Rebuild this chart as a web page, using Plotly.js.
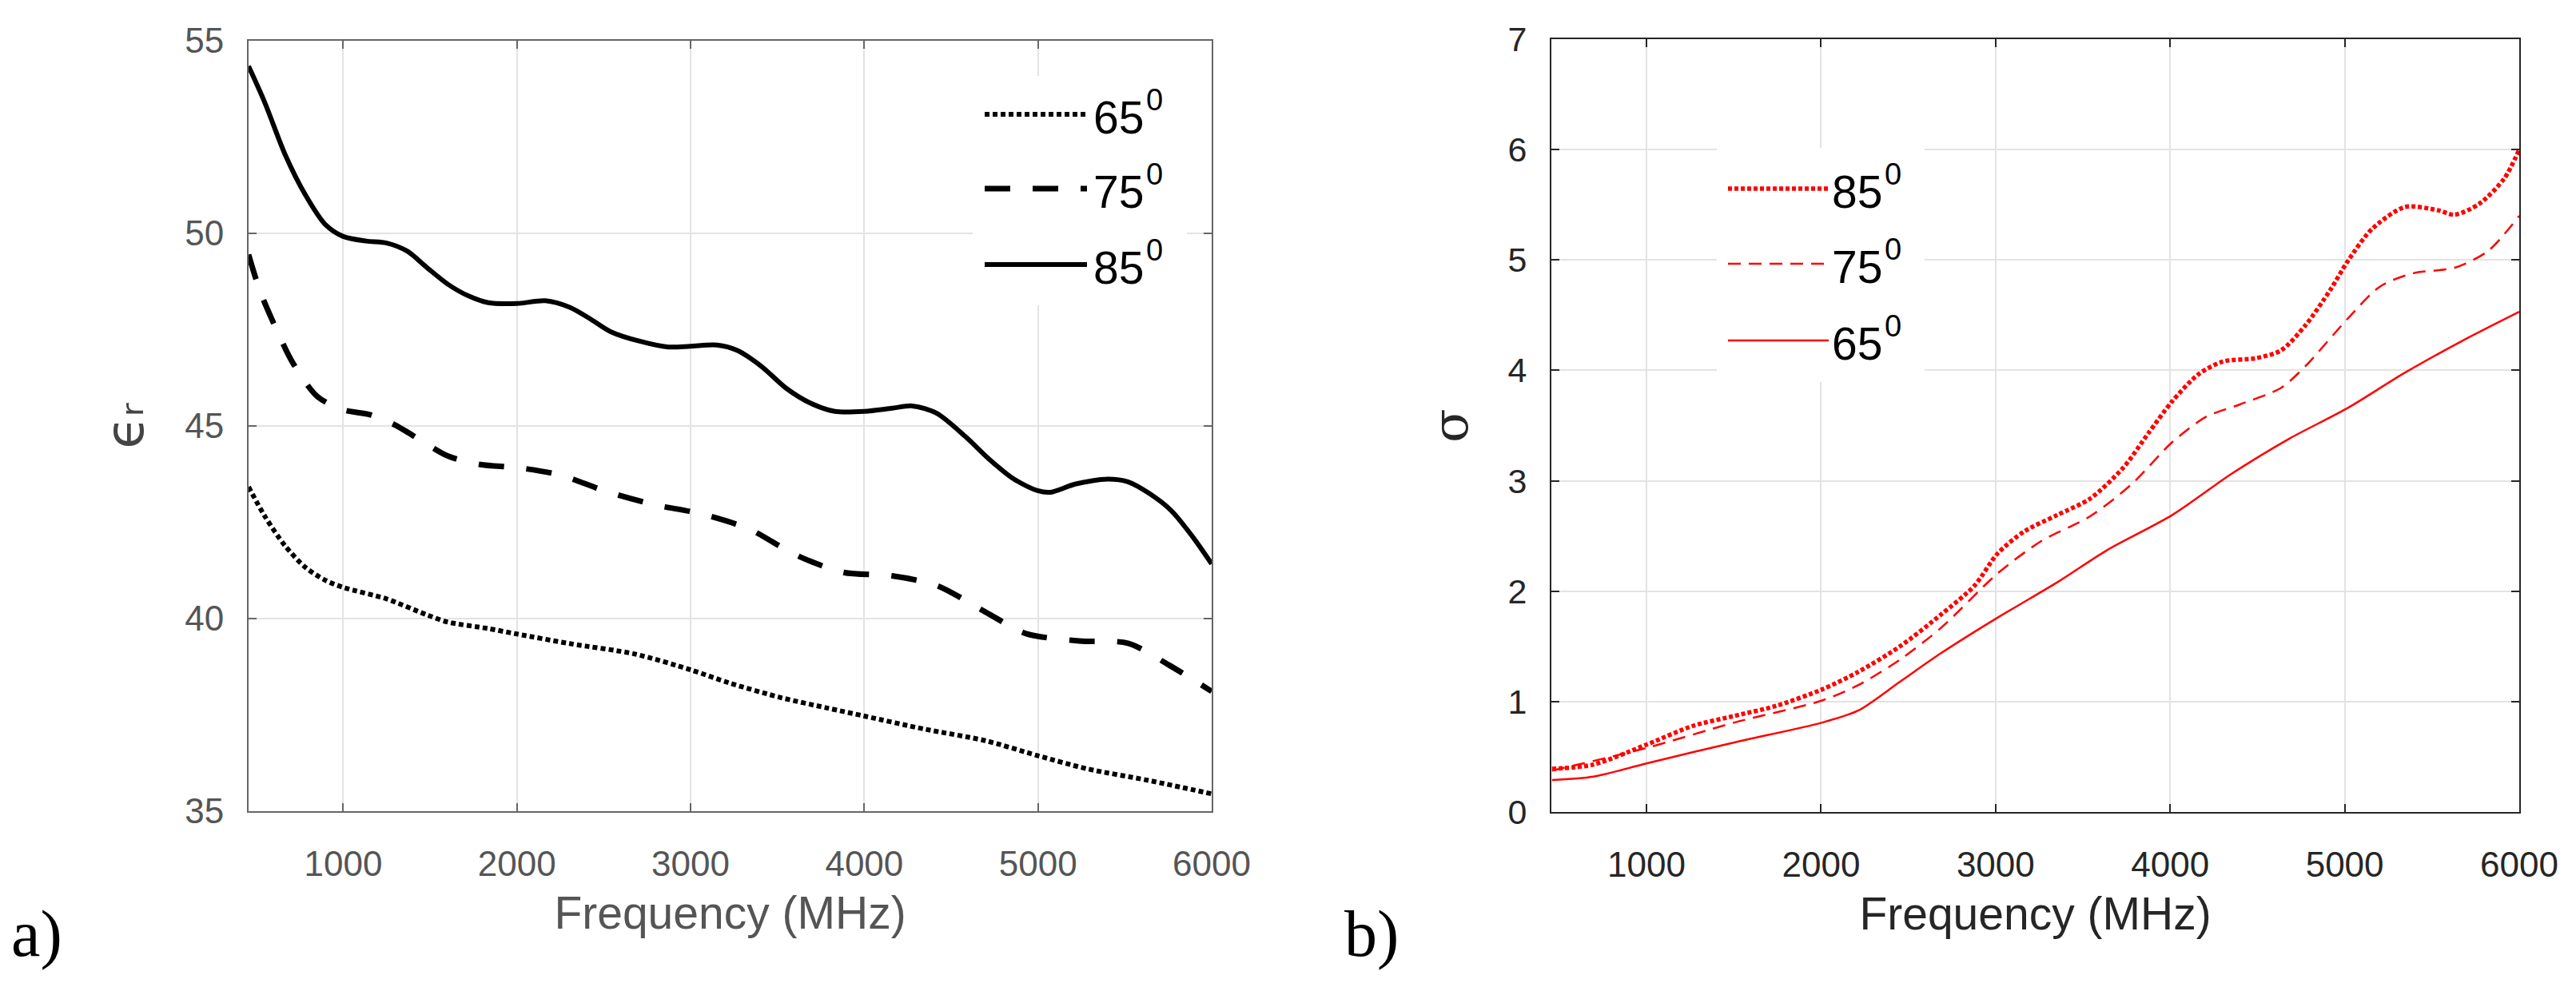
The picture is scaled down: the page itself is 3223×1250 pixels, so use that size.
<!DOCTYPE html>
<html>
<head>
<meta charset="utf-8">
<script src="https://cdn.plot.ly/plotly-3.0.1.min.js"></script>
<style>html,body{margin:0;padding:0;background:#fff;}#chart{width:3223px;height:1250px;}</style>
</head>
<body>
<div id="chart"></div>
<script>
// ---- data: panel a) relative permittivity ----
const freqEps85 = [455,548,665,782,899,1000,1133,1250,1368,1485,1602,1719,1836,2000,2164,2304,2422,2539,2707,2871,3000,3152,3269,3410,3550,3691,3831,4000,4159,4276,4417,4581,4721,4862,4998,5073,5213,5400,5518,5640,5768,5888,6000];
const eps85 = [54.34,53.4,52.05,51.0,50.22,49.92,49.8,49.75,49.54,49.1,48.68,48.38,48.2,48.18,48.25,48.08,47.78,47.45,47.2,47.05,47.07,47.1,46.96,46.54,45.98,45.59,45.38,45.38,45.46,45.52,45.33,44.73,44.13,43.62,43.32,43.28,43.49,43.62,43.55,43.25,42.8,42.14,41.42];
const freqEps75 = [455,521,618,712,852,1000,1157,1297,1438,1602,1789,2000,2246,2515,2778,3059,3340,3597,3878,4159,4417,4698,4932,5237,5518,5752,6000];
const eps75 = [49.45,48.5,47.48,46.62,45.76,45.42,45.29,45.03,44.65,44.22,44.0,43.92,43.73,43.3,42.97,42.72,42.32,41.67,41.2,41.11,40.86,40.17,39.61,39.42,39.36,38.8,38.11];
const freqEps65 = [455,548,665,782,899,1000,1250,1485,1602,1836,2000,2304,2679,3000,3222,3527,3785,4000,4347,4698,5000,5283,5635,6000];
const eps65 = [43.42,42.66,41.89,41.33,40.99,40.81,40.51,40.09,39.91,39.74,39.6,39.35,39.08,38.67,38.33,37.94,37.68,37.47,37.13,36.83,36.44,36.1,35.8,35.45];

// ---- data: panel b) conductivity ----
const freqSig85 = [459,696,1000,1266,1503,1740,2006,2214,2452,2689,2879,3011,3163,3353,3543,3732,3875,4012,4159,4302,4491,4634,4776,4918,5018,5156,5346,5535,5630,5772,5915,6000];
const sig85 = [0.39,0.43,0.61,0.78,0.87,0.96,1.11,1.27,1.5,1.79,2.05,2.34,2.54,2.69,2.84,3.12,3.43,3.72,3.96,4.08,4.11,4.18,4.41,4.73,4.99,5.28,5.48,5.45,5.41,5.51,5.74,6.0];
const freqSig75 = [459,1000,1503,2006,2214,2452,2689,3011,3258,3543,3780,4012,4207,4397,4634,4776,5018,5203,5393,5630,5820,6000];
const sig75 = [0.375,0.58,0.81,1.01,1.15,1.38,1.67,2.16,2.45,2.68,2.97,3.35,3.58,3.69,3.84,4.04,4.47,4.76,4.88,4.93,5.08,5.4];
const freqSig65 = [459,696,1000,1503,2006,2214,2452,2689,3011,3353,3637,4012,4349,4681,5018,5346,5677,6000];
const sig65 = [0.29,0.32,0.44,0.63,0.81,0.92,1.18,1.44,1.76,2.08,2.37,2.69,3.06,3.38,3.66,3.98,4.27,4.53];

const angleLabels = ['65','75','85'];
const degreeMark = '0';
const xTicks = [1000,2000,3000,4000,5000,6000];

// ---- page geometry helpers ----
const W = 3223, H = 1250;
const px = v => v / W;
const py = v => 1 - v / H;
const FONT = 'Liberation Sans, Arial, sans-serif';

const styleA = [
  {color:'#000', width:6, dash:'6px,4px'},
  {color:'#000', width:7, dash:'32px,28px'},
  {color:'#000', width:6, dash:'solid'}
];
const styleB = [
  {color:'#ff0000', width:2.5, dash:'solid'},
  {color:'#ff0000', width:2.5, dash:'16px,10px'},
  {color:'#ff0000', width:5.5, dash:'5px,3px'}
];

function tr(x, y, name, line, xa, ya) {
  return {x:x, y:y, name:name, type:'scatter', mode:'lines', xaxis:xa, yaxis:ya,
          line:Object.assign({shape:'spline', smoothing:0.8}, line), showlegend:false, hoverinfo:'x+y'};
}

const data = [
  tr(freqEps65, eps65, '65°', styleA[0], 'x', 'y'),
  tr(freqEps75, eps75, '75°', styleA[1], 'x', 'y'),
  tr(freqEps85, eps85, '85°', styleA[2], 'x', 'y'),
  tr(freqSig65, sig65, '65°', styleB[0], 'x2', 'y2'),
  tr(freqSig75, sig75, '75°', styleB[1], 'x2', 'y2'),
  tr(freqSig85, sig85, '85°', styleB[2], 'x2', 'y2')
];

function xAxis(domain, col, fontCol) {
  return {domain:domain, range:[455,6000], tickvals:xTicks, ticks:'inside', ticklen:10, tickwidth:2,
    tickcolor:col, linecolor:col, linewidth:2, mirror:'ticks', showgrid:true, gridcolor:'#e3e3e3', gridwidth:2,
    zeroline:false, tickfont:{family:FONT, size:44, color:fontCol}, ticklabelstandoff:26,
    title:{text:'Frequency (MHz)', font:{family:FONT, size:57, color:fontCol}, standoff:18}};
}

const layout = {
  width:W, height:H, margin:{l:0, r:0, t:0, b:0}, paper_bgcolor:'#fff', plot_bgcolor:'#fff',
  showlegend:false,
  xaxis: xAxis([px(311), px(1516)], '#666', '#555'),
  yaxis: {domain:[py(1015), py(51)], range:[35,55], dtick:5, ticks:'inside', ticklen:10, tickwidth:2,
    tickcolor:'#666', linecolor:'#666', linewidth:2, mirror:'ticks', showgrid:true, gridcolor:'#e3e3e3', gridwidth:2,
    zeroline:false, tickfont:{family:FONT, size:44, color:'#555'}, ticklabelstandoff:20,
    title:{text:'ϵᵣ', font:{family:'DejaVu Sans, sans-serif', size:66, color:'#444'}, standoff:30}},
  xaxis2: Object.assign(xAxis([px(1941), px(3152)], '#262626', '#262626'), {anchor:'y2'}),
  yaxis2: {domain:[py(1016), py(49)], range:[0,7], dtick:1, anchor:'x2', ticks:'inside', ticklen:10, tickwidth:2,
    tickcolor:'#262626', linecolor:'#262626', linewidth:2, mirror:'ticks', showgrid:true, gridcolor:'#e3e3e3', gridwidth:2,
    zeroline:false, tickfont:{family:FONT, size:43, color:'#262626'}, ticklabelstandoff:20,
    title:{text:'σ', font:{family:'DejaVu Serif, serif', size:62, color:'#262626'}, standoff:30}},
  shapes:[], annotations:[]
};

// custom legends (long line samples like the original)
function addLegend(box, lineX0, lineX1, textX, rows, order, styles) {
  layout.shapes.push({type:'rect', xref:'paper', yref:'paper', x0:px(box[0]), x1:px(box[1]), y0:py(box[3]), y1:py(box[2]),
    fillcolor:'#fff', line:{width:0}, layer:'above'});
  order.forEach((idx, i) => {
    const s = styles[idx];
    layout.shapes.push({type:'line', xref:'paper', yref:'paper', x0:px(lineX0), x1:px(lineX1), y0:py(rows[i]), y1:py(rows[i]),
      line:{color:s.color, width:s.width, dash:s.dash}, layer:'above'});
    layout.annotations.push({xref:'paper', yref:'paper', x:px(textX), y:py(rows[i] + 4), xanchor:'left', yanchor:'middle',
      text:angleLabels[idx], showarrow:false, font:{family:FONT, size:57, color:'#000'}});
    layout.annotations.push({xref:'paper', yref:'paper', x:px(textX + 66), y:py(rows[i] - 18), xanchor:'left', yanchor:'middle',
      text:degreeMark, showarrow:false, font:{family:FONT, size:38, color:'#000'}});
  });
}
addLegend([1217,1485,95,382], 1232, 1360, 1366, [143,236,331], [0,1,2], styleA);
addLegend([2148,2408,185,478], 2162, 2288, 2290, [236,330,426], [2,1,0], styleB);

// panel labels
layout.annotations.push({xref:'paper', yref:'paper', x:px(12), y:py(1168), xanchor:'left', yanchor:'middle',
  text:'a)', showarrow:false, font:{family:'Liberation Serif, Times New Roman, serif', size:82, color:'#000'}});
layout.annotations.push({xref:'paper', yref:'paper', x:px(1680), y:py(1168), xanchor:'left', yanchor:'middle',
  text:'b)', showarrow:false, font:{family:'Liberation Serif, Times New Roman, serif', size:82, color:'#000'}});

Plotly.newPlot('chart', data, layout, {displayModeBar:false, staticPlot:true});
</script>
</body>
</html>
